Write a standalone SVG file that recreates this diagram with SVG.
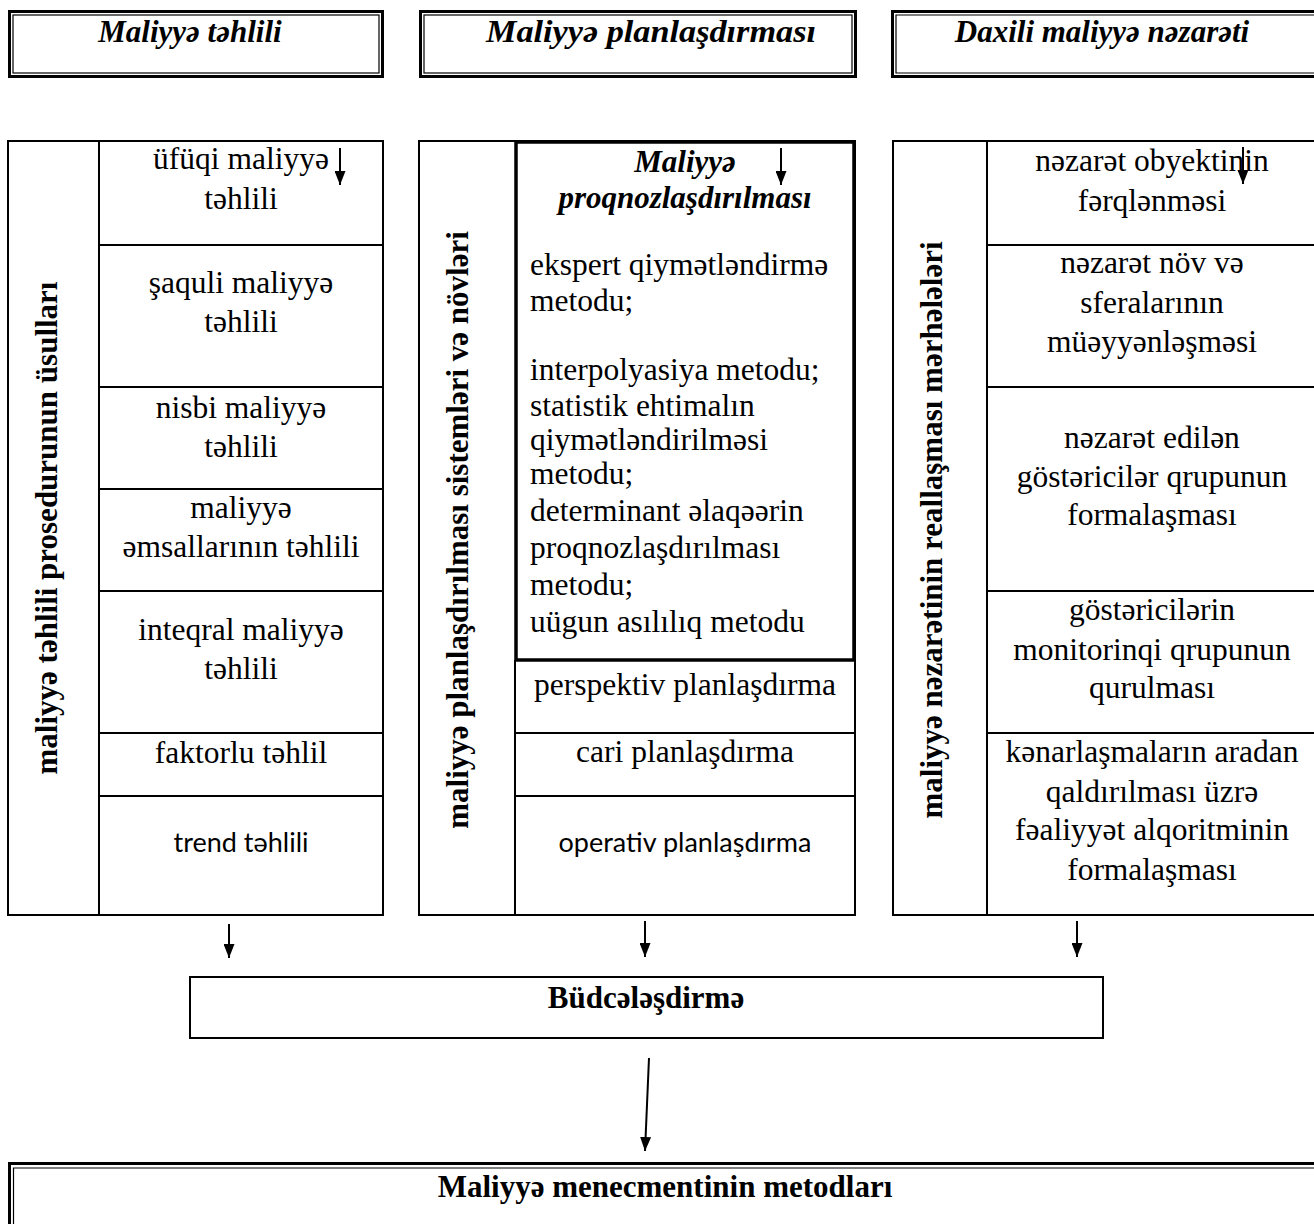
<svg xmlns="http://www.w3.org/2000/svg" width="1314" height="1224" viewBox="0 0 1314 1224">
<style>
text{font-family:"Liberation Serif","Times New Roman",serif;font-size:31.5px;fill:#000;text-anchor:middle}
.l{text-anchor:start}
.bi{font-weight:bold;font-style:italic;font-size:31px}
.b{font-weight:bold;font-size:31px}
.c{font-family:Lato,"Liberation Sans",sans-serif;font-size:27px}
.ln{stroke:#000;stroke-width:2;fill:none}
.thk{stroke:#000;stroke-width:3.5;fill:none}
.o{stroke:#000;stroke-width:3;fill:none}
.i{stroke:#000;stroke-width:1.2;fill:none}
.ar{stroke:#000;stroke-width:2;fill:none;marker-end:url(#ah)}
</style>
<defs>
<marker id="ah" markerUnits="userSpaceOnUse" markerWidth="14" markerHeight="11" refX="14" refY="5.5" orient="auto">
<path d="M0,0 L14,5.5 L0,11 z" fill="#000"/>
</marker>
</defs>
<rect width="1314" height="1224" fill="#fff"/>

<g id="top-analysis">
<rect class="o" x="9.5" y="11.5" width="373" height="65"/>
<rect class="i" x="13" y="15" width="366" height="58"/>
<text class="bi" x="190" y="42">Maliyyə təhlili</text>
</g>
<g id="top-planning">
<rect class="o" x="420.5" y="11.5" width="435" height="65"/>
<rect class="i" x="424" y="15" width="428" height="58"/>
<text class="bi" x="651" y="42" textLength="330" lengthAdjust="spacingAndGlyphs">Maliyyə planlaşdırması</text>
</g>
<g id="top-control">
<path class="o" d="M1320,11.5 H892.5 V76.5 H1320"/>
<path class="i" d="M1320,15 H896 V73 H1320"/>
<text class="bi" x="1102" y="42">Daxili maliyyə nəzarəti</text>
</g>

<g id="col-analysis">
<rect class="ln" x="8" y="141" width="375" height="774"/>
<line class="ln" x1="99" y1="141" x2="99" y2="915"/>
<path class="ln" d="M99,245 H383 M99,387 H383 M99,489 H383 M99,591 H383 M99,733 H383 M99,796 H383"/>
<text class="b" transform="translate(57,528) rotate(-90)">maliyyə təhlili prosedurunun üsulları</text>
<g id="a1"><text x="241" y="169">üfüqi maliyyə</text><text x="241" y="209">təhlili</text></g>
<g id="a2"><text x="241" y="293">şaquli maliyyə</text><text x="241" y="332">təhlili</text></g>
<g id="a3"><text x="241" y="418">nisbi maliyyə</text><text x="241" y="457">təhlili</text></g>
<g id="a4"><text x="241" y="518">maliyyə</text><text x="241" y="557">əmsallarının təhlili</text></g>
<g id="a5"><text x="241" y="640">inteqral maliyyə</text><text x="241" y="679">təhlili</text></g>
<g id="a6"><text x="241" y="763">faktorlu təhlil</text></g>
<g id="a7"><text class="c" x="241" y="852">trend təhlili</text></g>
</g>

<g id="col-planning">
<rect class="ln" x="419" y="141" width="436" height="774"/>
<line class="ln" x1="515" y1="660" x2="515" y2="915"/>
<path class="ln" d="M515,733 H855 M515,796 H855"/>
<text class="b" transform="translate(468,530) rotate(-90)">maliyyə planlaşdırılması sistemləri və növləri</text>
<g id="p1">
<rect class="thk" x="516" y="142" width="338" height="518"/>
<text class="bi" x="685" y="172">Maliyyə</text>
<text class="bi" x="685" y="208">proqnozlaşdırılması</text>
<text class="l" x="530" y="275">ekspert qiymətləndirmə</text>
<text class="l" x="530" y="311">metodu;</text>
<text class="l" x="530" y="380">interpolyasiya metodu;</text>
<text class="l" x="530" y="416">statistik ehtimalın</text>
<text class="l" x="530" y="450">qiymətləndirilməsi</text>
<text class="l" x="530" y="484">metodu;</text>
<text class="l" x="530" y="521">determinant əlaqəərin</text>
<text class="l" x="530" y="558">proqnozlaşdırılması</text>
<text class="l" x="530" y="595">metodu;</text>
<text class="l" x="530" y="632">uügun asılılıq metodu</text>
</g>
<g id="p2"><text x="685" y="695">perspektiv planlaşdırma</text></g>
<g id="p3"><text x="685" y="762">cari planlaşdırma</text></g>
<g id="p4"><text class="c" x="685" y="852">operativ planlaşdırma</text></g>
</g>

<g id="col-control">
<path class="ln" d="M1316,141 H893 V915 H1316"/>
<line class="ln" x1="987" y1="141" x2="987" y2="915"/>
<path class="ln" d="M987,245 H1316 M987,387 H1316 M987,591 H1316 M987,733 H1316"/>
<text class="b" transform="translate(942,530) rotate(-90)">maliyyə nəzarətinin reallaşması mərhələləri</text>
<g id="c1"><text x="1152" y="171">nəzarət obyektinin</text><text x="1152" y="211">fərqlənməsi</text></g>
<g id="c2"><text x="1152" y="273">nəzarət növ və</text><text x="1152" y="313">sferalarının</text><text x="1152" y="352">müəyyənləşməsi</text></g>
<g id="c3"><text x="1152" y="448">nəzarət edilən</text><text x="1152" y="487">göstəricilər qrupunun</text><text x="1152" y="525">formalaşması</text></g>
<g id="c4"><text x="1152" y="620">göstəricilərin</text><text x="1152" y="660">monitorinqi qrupunun</text><text x="1152" y="698">qurulması</text></g>
<g id="c5"><text x="1152" y="762">kənarlaşmaların aradan</text><text x="1152" y="802">qaldırılması üzrə</text><text x="1152" y="840">fəaliyyət alqoritminin</text><text x="1152" y="880">formalaşması</text></g>
</g>

<g id="budget">
<rect class="ln" x="190" y="977" width="913" height="61"/>
<text class="b" x="646" y="1008">Büdcələşdirmə</text>
</g>

<g id="methods">
<path class="o" d="M9.5,1226 V1163.5 H1316"/>
<path class="i" d="M13.5,1226 V1168 H1316"/>
<text class="b" x="665" y="1197">Maliyyə menecmentinin metodları</text>
</g>

<g id="connectors">
<line class="ar" x1="340" y1="148" x2="340" y2="185"/>
<line class="ar" x1="781" y1="148" x2="781" y2="185"/>
<line class="ar" x1="1243" y1="147" x2="1243" y2="184"/>
<line class="ar" x1="229" y1="924" x2="229" y2="958"/>
<line class="ar" x1="645" y1="921" x2="645" y2="957"/>
<line class="ar" x1="1077" y1="921" x2="1077" y2="957"/>
<line class="ar" x1="649" y1="1058" x2="645" y2="1151"/>
</g>
</svg>
